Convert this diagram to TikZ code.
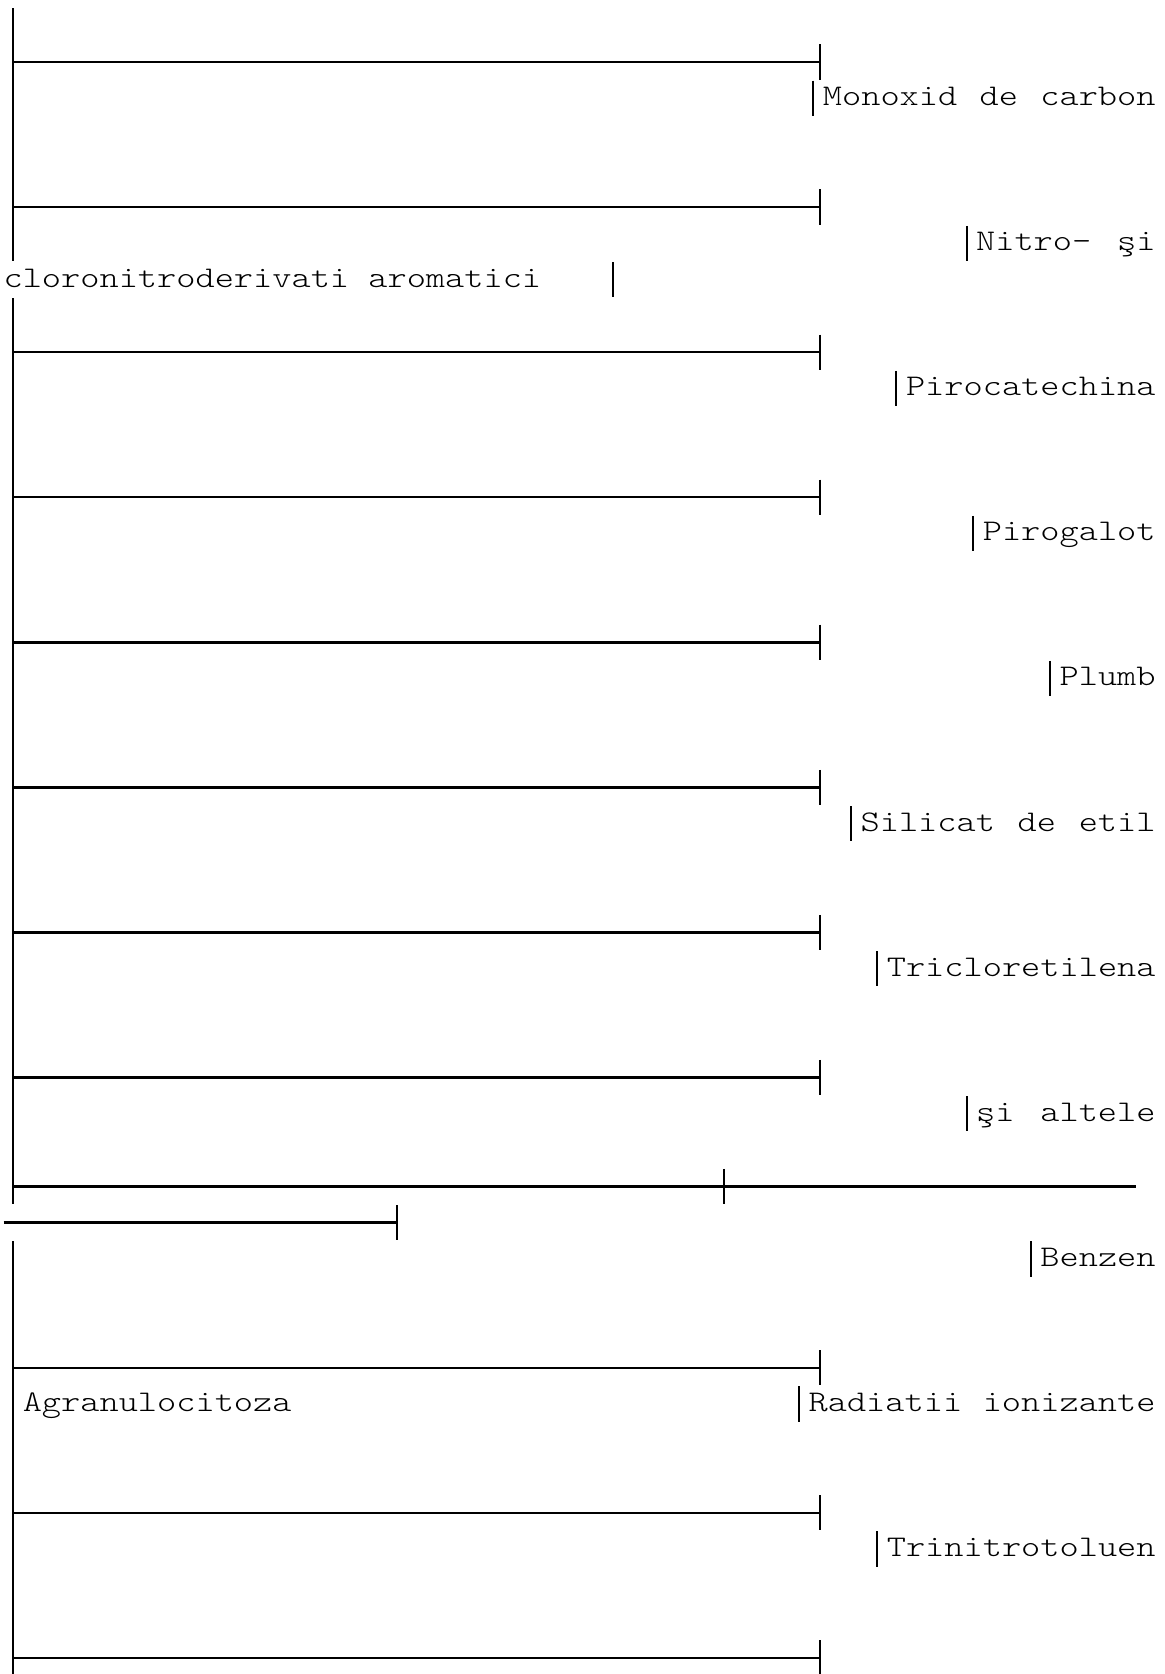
\documentclass[tikz,border=0pt]{standalone}
\usepackage{fontspec}
\newfontfamily\courlike{lmmonolt10-regular}[Extension=.otf, FakeStretch=1.2190]
\begin{document}
\begin{tikzpicture}[x=0.75pt,y=-0.75pt,
  rule/.style={line width=1.5pt, line cap=butt, black},
  hrule/.style={line width=1.85pt, line cap=butt, black},
  lbl/.style={anchor=base west, inner sep=0pt, outer sep=0pt, font=\courlike\fontsize{22.5}{22.5}\selectfont}]
\useasboundingbox (0,0) rectangle (1164,1674);
% ---------- left border (three runs) ----------
\coordinate (b0t) at (13.2,8.13);
\coordinate (b0b) at (13.2,260.95);
\coordinate (b1t) at (13.2,298.29);
\coordinate (b1b) at (13.2,1203.97);
\coordinate (b2t) at (13.2,1241.31);
\coordinate (b2b) at (13.2,1674);
\draw[rule] (b0t) -- (b0b);
\draw[rule] (b1t) -- (b1b);
\draw[rule] (b2t) -- (b2b);
% ---------- rows with a rule ending in a tee ----------
\foreach \r in {1,5,9,13,17,21,25,29,37,41,45}{
  \coordinate (hl\r) at (13.2,{25.73+36.27*\r});
  \coordinate (hr\r) at (819.6,{25.73+36.27*\r});
  \coordinate (ht\r) at (819.6,{25.73+36.27*\r-17.6});
  \coordinate (hb\r) at (819.6,{25.73+36.27*\r+17.6});
  \draw[hrule] (hl\r) -- (hr\r);
  \draw[rule] (ht\r) -- (hb\r);
}
% ---------- row 32 (cross) and its wrapped continuation, row 33 ----------
\coordinate (cl) at (13.2,1186.37);
\coordinate (cx) at (723.6,1186.37);
\coordinate (cr) at (1136.4,1186.37);
\coordinate (cxt) at (723.6,1168.77);
\coordinate (cxb) at (723.6,1203.97);
\draw[hrule] (cl) -- (cx) -- (cr);
\draw[rule] (cxt) -- (cxb);
\coordinate (wl) at (3.6,1222.64);
\coordinate (wr) at (397.2,1222.64);
\coordinate (wrt) at (397.2,1205.04);
\coordinate (wrb) at (397.2,1240.24);
\draw[hrule] (wl) -- (wr);
\draw[rule] (wrt) -- (wrb);
% ---------- label bars ----------
\foreach \n/\x/\r in {mo/813.3/2, ni/966.5/6, cl/613/7, pc/896.4/10, pg/973.2/14,
                      pb/1050.0/18, si/851/22, tc/877.2/26, sa/966.5/30, bz/1030.8/34,
                      ra/799/38, tn/877.2/42}{
  \coordinate (\n t) at (\x,{25.73+36.27*\r-17.6});
  \coordinate (\n b) at (\x,{25.73+36.27*\r+17.6});
  \draw[rule] (\n t) -- (\n b);
}
% ---------- texts ----------
\node[lbl] (monoxid) at (822.9,105.67) {Monoxid\hspace{16.76pt}de\hspace{16.76pt}carbon};
\node[lbl] (nitro) at (976.1,250.75) {Nitro-\hspace{19.43pt}şi};
\node[lbl] (cloro) at (3.6,287.02) {cloronitroderivati\hspace{14.4pt}aromatici};
\node[lbl] (piroc) at (906.0,395.83) {Pirocatechina};
\node[lbl] (pirog) at (982.8,540.91) {Pirogalot};
\node[lbl] (plumb) at (1059.6,685.99) {Plumb};
\node[lbl] (silicat) at (860.6,831.07) {Silicat\hspace{17.03pt}de\hspace{17.03pt}etil};
\node[lbl] (triclor) at (886.8,976.15) {Tricloretilena};
\node[lbl] (altele) at (976.1,1121.23) {şi\hspace{19.43pt}altele};
\node[lbl] (benzen) at (1040.4,1266.31) {Benzen};
\node[lbl] (agran) at (22.8,1411.39) {Agranulocitoza};
\node[lbl] (radiatii) at (808.6,1411.39) {Radiatii\hspace{15.45pt}ionizante};
\node[lbl] (trinitro) at (886.8,1556.47) {Trinitrotoluen};
\end{tikzpicture}
\end{document}
